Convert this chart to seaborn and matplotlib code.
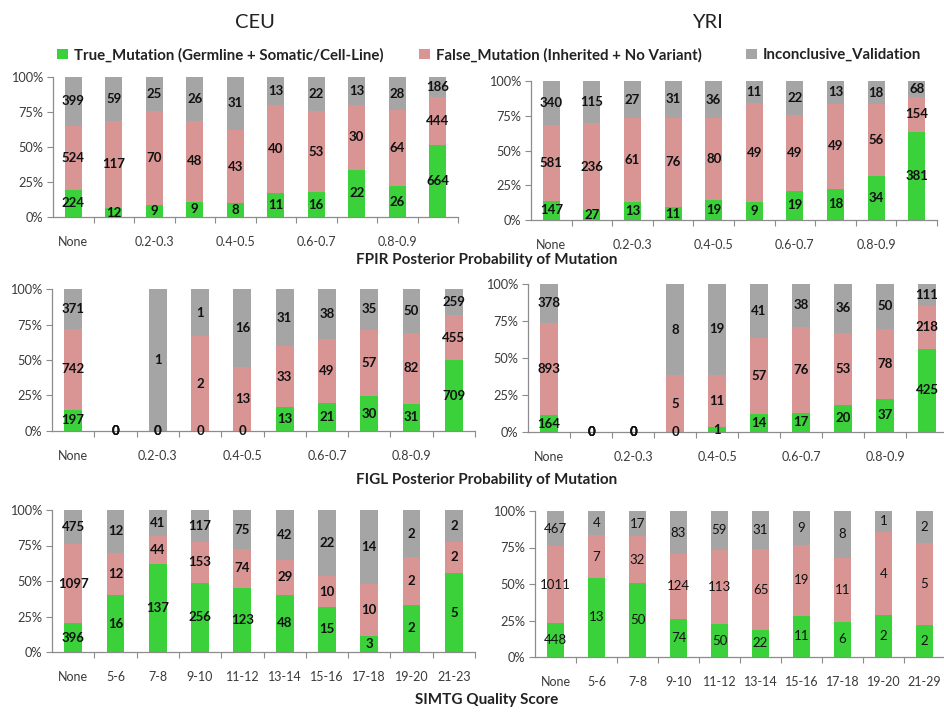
import matplotlib
matplotlib.use("Agg")
import matplotlib.pyplot as plt
from matplotlib.patches import Patch
from matplotlib.ticker import FixedLocator, PercentFormatter
import numpy as np
import pandas as pd
import seaborn as sns

sns.set_theme(style="ticks")
plt.rcParams["font.family"] = ["Lato", "DejaVu Sans"]

# ---- categories -------------------------------------------------------------
prob_bins = ["None", "0-0.2", "0.2-0.3", "0.3-0.4", "0.4-0.5",
             "0.5-0.6", "0.6-0.7", "0.7-0.8", "0.8-0.9", "0.9-1.0"]
simtg_bins_ceu = ["None", "5-6", "7-8", "9-10", "11-12",
                  "13-14", "15-16", "17-18", "19-20", "21-23"]
simtg_bins_yri = ["None", "5-6", "7-8", "9-10", "11-12",
                  "13-14", "15-16", "17-18", "19-20", "21-29"]

# ---- counts: FPIR posterior probability ------------------------------------
fpir_ceu_true = [224, 12, 9, 9, 8, 11, 16, 22, 26, 664]
fpir_ceu_false = [524, 117, 70, 48, 43, 40, 53, 30, 64, 444]
fpir_ceu_inconc = [399, 59, 25, 26, 31, 13, 22, 13, 28, 186]

fpir_yri_true = [147, 27, 13, 11, 19, 9, 19, 18, 34, 381]
fpir_yri_false = [581, 236, 61, 76, 80, 49, 49, 49, 56, 154]
fpir_yri_inconc = [340, 115, 27, 31, 36, 11, 22, 13, 18, 68]

# ---- counts: FIGL posterior probability ------------------------------------
figl_ceu_true = [197, 0, 0, 0, 0, 13, 21, 30, 31, 709]
figl_ceu_false = [742, 0, 0, 2, 13, 33, 49, 57, 82, 455]
figl_ceu_inconc = [371, 0, 1, 1, 16, 31, 38, 35, 50, 259]

figl_yri_true = [164, 0, 0, 0, 1, 14, 17, 20, 37, 425]
figl_yri_false = [893, 0, 0, 5, 11, 57, 76, 53, 78, 218]
figl_yri_inconc = [378, 0, 0, 8, 19, 41, 38, 36, 50, 111]

# ---- counts: SIMTG quality score -------------------------------------------
simtg_ceu_true = [396, 16, 137, 256, 123, 48, 15, 3, 2, 5]
simtg_ceu_false = [1097, 12, 44, 153, 74, 29, 10, 10, 2, 2]
simtg_ceu_inconc = [475, 12, 41, 117, 75, 42, 22, 14, 2, 2]

simtg_yri_true = [448, 13, 50, 74, 50, 22, 11, 6, 2, 2]
simtg_yri_false = [1011, 7, 32, 124, 113, 65, 19, 11, 4, 5]
simtg_yri_inconc = [467, 4, 17, 83, 59, 31, 9, 8, 1, 2]

legend_labels = ["True_Mutation (Germline + Somatic/Cell-Line)",
                 "False_Mutation (Inherited + No Variant)",
                 "Inconclusive_Validation"]

GREEN = "#3ad13a"
PINK = "#d99594"
GRAY = "#a5a5a5"
AXIS = "#8c8c8c"
TEXT = "#3a3a3a"

W, H = 944, 713
fig = plt.figure(figsize=(W / 100, H / 100), dpi=100)


def add_axes_px(x0, y0, x1, y1):
    """Axes from pixel box (x0, y0 top-left; x1, y1 bottom-right)."""
    return fig.add_axes([x0 / W, 1 - y1 / H, (x1 - x0) / W, (y1 - y0) / H])


def draw_panel(ax, cats, true, false, inconc, every_other=True, weight="bold"):
    t = np.asarray(true, float)
    f = np.asarray(false, float)
    i = np.asarray(inconc, float)
    total = t + f + i
    safe = np.where(total > 0, total, 1.0)
    p_t = t / safe
    p_tf = (t + f) / safe
    p_all = np.where(total > 0, 1.0, 0.0)
    df = pd.DataFrame({"bin": cats, "inconc": p_all, "false": p_tf, "true": p_t})

    # cumulative shares drawn back-to-front give a 100% stacked bar
    for col, color in (("inconc", GRAY), ("false", PINK), ("true", GREEN)):
        sns.barplot(data=df, x="bin", y=col, order=cats, color=color,
                    saturation=1, width=0.42, linewidth=0, ax=ax)

    for k in range(len(cats)):
        mids = (p_t[k] / 2,
                p_t[k] + f[k] / safe[k] / 2,
                p_tf[k] + i[k] / safe[k] / 2)
        for val, y in zip((t[k], f[k], i[k]), mids):
            ax.text(k, y, f"{int(val)}", ha="center", va="center",
                    fontsize=9.5, fontweight=weight, color="#111111")

    ax.set_xlim(-0.5, len(cats) - 0.5)
    ax.set_ylim(0, 1)
    ax.set_xlabel("")
    ax.set_ylabel("")
    ax.yaxis.set_major_locator(FixedLocator([0, 0.25, 0.5, 0.75, 1.0]))
    ax.yaxis.set_major_formatter(PercentFormatter(1.0, decimals=0))

    step = 2 if every_other else 1
    pos = list(range(0, len(cats), step))
    ax.set_xticks(pos)
    ax.set_xticklabels([cats[p] for p in pos])
    ax.set_xticks(np.arange(0.5, len(cats), 1.0), minor=True)
    ax.tick_params(axis="x", which="major", length=0, pad=14,
                   labelsize=9.0, labelcolor=TEXT)
    ax.tick_params(axis="x", which="minor", length=4, width=0.8,
                   color=AXIS, direction="out")
    ax.tick_params(axis="y", which="major", length=4, width=0.8, color=AXIS,
                   labelsize=9.2, labelcolor=TEXT, pad=3)
    sns.despine(ax=ax)
    for side in ("left", "bottom"):
        ax.spines[side].set_color(AXIS)
        ax.spines[side].set_linewidth(0.9)


panels = [
    ((53, 77, 458, 217), prob_bins, fpir_ceu_true, fpir_ceu_false, fpir_ceu_inconc, True, "bold"),
    ((531, 81, 937, 220), prob_bins, fpir_yri_true, fpir_yri_false, fpir_yri_inconc, True, "bold"),
    ((52, 289, 475, 431), prob_bins, figl_ceu_true, figl_ceu_false, figl_ceu_inconc, True, "bold"),
    ((528, 284, 948, 432), prob_bins, figl_yri_true, figl_yri_false, figl_yri_inconc, True, "bold"),
    ((52, 510, 475, 652), simtg_bins_ceu, simtg_ceu_true, simtg_ceu_false, simtg_ceu_inconc, False, "bold"),
    ((535, 511, 945, 657), simtg_bins_yri, simtg_yri_true, simtg_yri_false, simtg_yri_inconc, False, "normal"),
]

for box, cats, tr, fa, inc, eo, wt in panels:
    ax = add_axes_px(*box)
    draw_panel(ax, cats, tr, fa, inc, every_other=eo, weight=wt)

# population headers
fig.text(255 / W, 1 - 22 / H, "CEU", ha="center", va="center", fontsize=14.5, color="#222222")
fig.text(707 / W, 1 - 22 / H, "YRI", ha="center", va="center", fontsize=14.5, color="#222222")

# score titles
for y, txt in ((260, "FPIR Posterior Probability of Mutation"),
               (480, "FIGL Posterior Probability of Mutation"),
               (700, "SIMTG Quality Score")):
    fig.text(487 / W, 1 - y / H, txt, ha="center", va="center",
             fontsize=11, fontweight="bold", color="#222222")

# legend entries across the top
for x, label, color in ((57, legend_labels[0], GREEN),
                        (419, legend_labels[1], PINK),
                        (746, legend_labels[2], GRAY)):
    fig.legend(handles=[Patch(facecolor=color, edgecolor="none", label=label)],
               loc="center left", bbox_to_anchor=(x / W, 1 - 55 / H),
               frameon=False, borderpad=0, borderaxespad=0,
               handlelength=0.7, handleheight=0.7, handletextpad=0.4,
               prop={"size": 10.8, "weight": "bold"}, labelcolor="#222222")

fig.savefig("out.png", dpi=100)
